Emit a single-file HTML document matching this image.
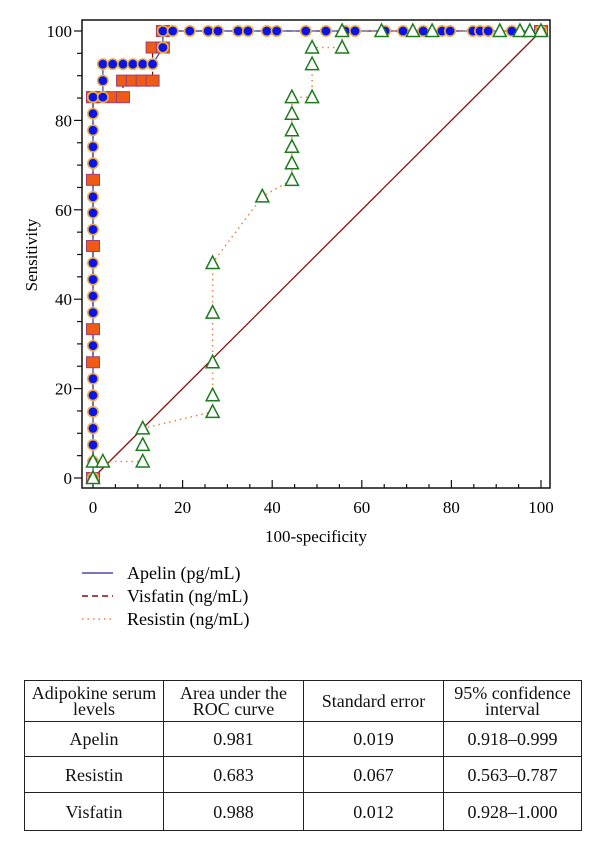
<!DOCTYPE html>
<html><head><meta charset="utf-8">
<style>
html,body{margin:0;padding:0;background:#fff;}
body{width:600px;height:845px;position:relative;overflow:hidden;font-family:"Liberation Serif",serif;}
table{position:absolute;left:24px;top:680px;width:558px;border-collapse:collapse;font-size:18px;color:#111;table-layout:fixed;}
td{border:1.5px solid #222;text-align:center;padding:0;line-height:16px;white-space:nowrap;}
.h td{font-size:18px;line-height:16px;}
</style></head>
<body>
<svg id="chart" width="600" height="650" style="position:absolute;left:0;top:0" font-family="Liberation Serif, serif"></svg>
<table>
<tr class="h" style="height:41px"><td style="width:138px">Adipokine serum<br>levels</td><td style="width:139px">Area under the<br>ROC curve</td><td style="width:139px">Standard error</td><td>95% confidence<br>interval</td></tr>
<tr style="height:35px"><td>Apelin</td><td>0.981</td><td>0.019</td><td>0.918–0.999</td></tr>
<tr style="height:36px"><td>Resistin</td><td>0.683</td><td>0.067</td><td>0.563–0.787</td></tr>
<tr style="height:38px"><td>Visfatin</td><td>0.988</td><td>0.012</td><td>0.928–1.000</td></tr>
</table>
<script>
const apelinX=[0,0,0,0,0,0,0,0,0,0,0,0,0,0,0,0,0,0,0,0,0,0,0,2.2,2.2,2.2,4.4,6.7,8.9,11.1,13.3,15.6,15.6,17.8,21.6,25.7,27.9,32.4,34.6,38.8,41,47.5,52,56.3,58.5,65.2,69.2,73.7,77.9,79.7,84.8,86.4,88.2,93.5,100];
const apelinY=[0,3.7,7.4,11.1,14.8,18.5,22.2,29.6,37,40.7,44.4,48.1,55.6,59.3,62.9,70.4,74.1,77.8,81.5,85.2,85.2,85.2,85.2,85.2,88.9,92.6,92.6,92.6,92.6,92.6,92.6,96.3,100,100,100,100,100,100,100,100,100,100,100,100,100,100,100,100,100,100,100,100,100,100,100];
const visfatinX=[0,0,0,0,0,0,0,2.2,4.4,6.7,6.7,8.9,11.1,13.3,13.3,15.6,15.6,100];
const visfatinY=[0,25.9,33.3,51.9,66.7,85.2,85.2,85.2,85.2,85.2,88.9,88.9,88.9,88.9,96.3,96.3,100,100];
const resistinX=[0,0,2.2,11.1,11.1,11.1,26.7,26.7,26.7,26.7,26.7,37.8,44.4,44.4,44.4,44.4,44.4,44.4,48.9,48.9,48.9,55.6,55.6,64.4,71.4,75.7,90.8,95.3,97.5,100];
const resistinY=[0,3.7,3.7,3.7,7.4,11.1,14.8,18.5,25.9,37,48.1,63,66.7,70.4,74.1,77.8,81.5,85.2,85.2,92.6,96.3,96.3,100,100,100,100,100,100,100,100];
const xTicks=[0,20,40,60,80,100];
const yTicks=[0,20,40,60,80,100];
const legendLabels=["Apelin (pg/mL)","Visfatin (ng/mL)","Resistin (ng/mL)"];

const NS="http://www.w3.org/2000/svg";
const svg=document.getElementById('chart');
const sx=v=>93+v*4.48, sy=v=>478-v*4.47;
function mk(tag,attrs,parent){const e=document.createElementNS(NS,tag);for(const k in attrs)e.setAttribute(k,attrs[k]);(parent||svg).appendChild(e);return e;}

const frame=mk('rect',{x:82,y:20,width:468,height:468,fill:'none',stroke:'#111','stroke-width':1.5});


for(let v=0;v<=100;v+=5){
  const major=v%20===0;
  const t=mk('line',{x1:sx(v),x2:sx(v),y1:488,y2:major?480:484,stroke:'#111','stroke-width':1.2});
  
  
  const u=mk('line',{x1:82,x2:major?74:77,y1:sy(v),y2:sy(v),stroke:'#111','stroke-width':1.2});
  
  
}
xTicks.forEach(v=>{const t=mk('text',{x:sx(v),y:513,'text-anchor':'middle','font-size':17});t.textContent=v;
  
  });
yTicks.forEach(v=>{const t=mk('text',{x:72,y:sy(v)+6,'text-anchor':'end','font-size':17});t.textContent=v;
  
  });
const xt=mk('text',{x:316,y:542,'text-anchor':'middle','font-size':17});xt.textContent='100-specificity';


const yt=mk('text',{x:37,y:255,'text-anchor':'middle','font-size':17,transform:'rotate(-90 37 255)'});yt.textContent='Sensitivity';


const dg=mk('line',{x1:sx(0),y1:sy(0),x2:sx(100),y2:sy(100),stroke:'#8b0d0d','stroke-width':1.3});



function path(xs,ys){return xs.map((x,i)=>(i?'L':'M')+sx(x).toFixed(1)+' '+sy(ys[i]).toFixed(1)).join(' ');}
const lv=mk('path',{d:path(visfatinX,visfatinY),fill:'none',stroke:'#8b0d0d','stroke-width':1.3,'stroke-dasharray':'6 4'});


const la=mk('path',{d:path(apelinX,apelinY),fill:'none',stroke:'#4a4aa8','stroke-width':1.3});


const lr=mk('path',{d:path(resistinX,resistinY),fill:'none',stroke:'#f08040','stroke-width':1.5,'stroke-dasharray':'1.5 4'});



visfatinX.forEach((x,i)=>{const r=mk('rect',{x:sx(x)-6.5,y:sy(visfatinY[i])-5.5,width:13,height:11,fill:'#f05a14',stroke:'#a04070','stroke-width':1});
  
  });
apelinX.forEach((x,i)=>{const c=mk('circle',{cx:sx(x),cy:sy(apelinY[i]),r:5.2,fill:'#0a14e6',stroke:'#f0b040','stroke-width':1.6});
  
  });
resistinX.forEach((x,i)=>{const cx=sx(x),cy=sy(resistinY[i]);
  const p=mk('polygon',{points:`${cx},${cy-7} ${cx-6.5},${cy+5.5} ${cx+6.5},${cy+5.5}`,fill:'#fff',stroke:'#1e7a1e','stroke-width':1.5});
  
  });

const styles=[{s:'#4a4aa8',d:''},{s:'#8b0d0d',d:'6 4'},{s:'#f08040',d:'1.5 4'}];
legendLabels.forEach((lab,i)=>{const y=573+i*23;
  const g=mk('g',{});
  
  
  mk('line',{x1:82,x2:113,y1:y,y2:y,stroke:styles[i].s,'stroke-width':1.4,'stroke-dasharray':styles[i].d},g);
  const t=mk('text',{x:127,y:y+6,'font-size':18},g);t.textContent=lab;});
</script>
</body></html>
